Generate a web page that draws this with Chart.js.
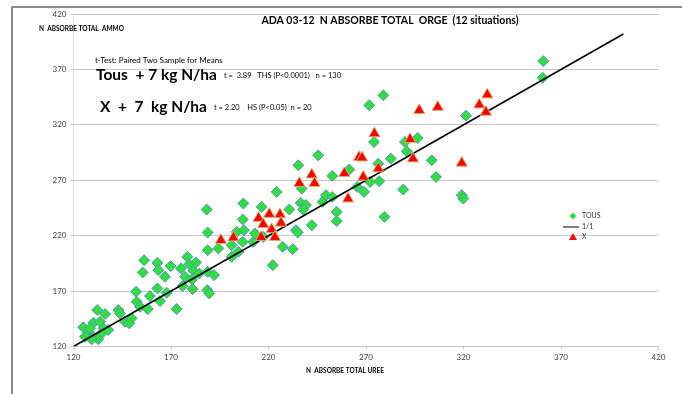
<!DOCTYPE html>
<html>
<head>
<meta charset="utf-8">
<script src="https://cdn.jsdelivr.net/npm/chart.js@4.4.0/dist/chart.umd.min.js"></script>
<style>
  html, body { margin: 0; padding: 0; background: #fff; }
</style>
</head>
<body>
<canvas id="chart" width="682" height="394"></canvas>
<script>
// TOUS series (green diamonds)
const tousX = [156.2, 163.0, 155.5, 163.5, 166.9, 169.8, 175.1, 178.4, 179.4, 182.8, 181.4, 184.5, 177.2, 180.8, 188.8, 192.1,
  176.0, 181.1, 188.6, 189.6, 188.8, 194.3, 201.1, 201.1, 204.5, 152.1, 159.2, 163.0, 167.8, 164.4, 152.4, 154.1, 158.1,
  172.9, 143.0, 143.8, 146.4, 149.8, 148.6, 132.2, 136.2, 130.2, 133.6, 125.0, 127.6, 130.2, 132.7, 129.3, 135.3, 134.5,
  125.9, 128.5, 137.8, 188.3, 207.1, 206.8, 188.8, 203.7, 207.4, 206.8, 212.2, 216.5, 213.1, 217.3, 224.2, 230.7, 227.3,
  232.4, 222.2, 234.1, 235.0, 236.5, 239.2, 237.8, 242.2, 247.8, 249.5, 252.7, 252.7, 255.0, 255.0, 237.0, 278.9, 271.7,
  274.1, 245.5, 235.3, 261.4, 276.3, 282.7, 290.0, 290.9, 296.5, 289.1, 276.8, 272.1, 265.5, 269.0, 279.4, 360.9, 360.6,
  321.3, 303.7, 305.9, 319.1, 319.9];
const tousY = [197.9, 195.5, 186.8, 188.9, 182.9, 192.5, 190.5, 200.9, 194.1, 195.9, 188.3, 185.9, 182.9, 180.5, 187.4, 184.4,
  174.5, 171.8, 170.9, 167.9, 206.9, 208.5, 211.4, 200.9, 205.4, 169.4, 165.5, 172.4, 168.5, 161.0, 160.4, 155.9, 153.8,
  153.8, 152.9, 149.9, 142.3, 145.4, 140.9, 152.9, 149.3, 141.4, 142.3, 137.3, 132.4, 128.8, 126.5, 126.5, 136.4, 131.9,
  128.8, 136.4, 134.9, 243.6, 249.0, 234.6, 222.9, 223.4, 225.0, 214.4, 214.4, 245.9, 222.0, 218.9, 259.5, 243.6, 209.9,
  207.8, 193.4, 225.0, 222.9, 249.5, 247.6, 243.6, 229.5, 250.5, 256.5, 255.0, 273.9, 241.4, 233.1, 262.5, 346.6, 337.6,
  304.5, 292.5, 283.5, 279.6, 285.0, 289.5, 304.5, 296.1, 308.1, 261.6, 269.1, 268.5, 264.0, 259.5, 236.9, 377.5, 362.5,
  328.3, 288.0, 273.0, 256.5, 253.5];

// X series (red triangles)
const xX = [195.6, 202.0, 214.9, 220.4, 225.9, 217.3, 226.4, 221.6, 216.2, 223.3, 235.8, 242.2, 243.6, 258.9, 260.8, 274.3,
  266.4, 268.0, 276.3, 268.6, 292.6, 294.1, 297.3, 306.8, 328.1, 332.2, 331.5, 319.1];
const xY = [215.9, 218.2, 235.8, 239.4, 239.1, 230.2, 231.5, 225.6, 218.6, 218.6, 267.3, 275.0, 267.3, 276.3, 253.3, 312.1,
  290.7, 290.3, 280.5, 273.0, 306.9, 289.5, 333.1, 336.0, 338.2, 347.2, 331.5, 285.6];

// 1/1 reference line ends
const lineX = [120, 402];
const lineY = [120, 402];

const axisMin = 120;
const axisMax = 420;
const axisStep = 50;

const seriesNames = ['TOUS', '1/1', 'X'];
const titleText = 'ADA 03-12  N ABSORBE TOTAL  ORGE  (12 situations)';
const xTitle = 'N  ABSORBE TOTAL UREE';
const yTitle = 'N  ABSORBE TOTAL  AMMO';
const testTitle = 't-Test: Paired Two Sample for Means';
const tousLabel = 'Tous  + 7 kg N/ha';
const tousStats = 't =  3.89   THS (P<0.0001)   n = 130';
const xLabel = 'X  +  7  kg N/ha';
const xStats = 't = 2.20    HS (P<0.05)  n = 20';

const GREEN = '#2fe03c';
const GREEN_EDGE = '#5a8ccc';
const RED = '#ff0000';
const RED_EDGE = '#c9b870';
const FONT = 'Lato, "Open Sans", sans-serif';

function toPoints(xs, ys) {
  return xs.map((x, i) => ({ x: x, y: ys[i] }));
}

const decorPlugin = {
  id: 'decor',
  afterDraw(chart) {
    const ctx = chart.ctx;
    ctx.save();

    // outer frame
    ctx.strokeStyle = '#8c8c8c';
    ctx.lineWidth = 2;
    ctx.beginPath();
    ctx.moveTo(12, 394);
    ctx.lineTo(12, 7);
    ctx.lineTo(682, 7);
    ctx.stroke();

    ctx.fillStyle = '#000';
    ctx.textBaseline = 'middle';

    ctx.textAlign = 'center';
    ctx.font = 'bold 10.5px ' + FONT;
    ctx.fillText(titleText, 390, 21);

    ctx.font = 'bold 6.5px ' + FONT;
    ctx.fillText(xTitle, 345, 371);
    ctx.textAlign = 'left';
    ctx.fillText(yTitle, 39, 29);

    ctx.font = '8px ' + FONT;
    ctx.fillText(testTitle, 95, 60);

    ctx.font = 'bold 15.5px ' + FONT;
    ctx.fillText(tousLabel, 96, 75);
    let w = ctx.measureText(tousLabel).width;
    ctx.font = '7.5px ' + FONT;
    ctx.fillText(tousStats, 96 + w + 7, 76);

    ctx.font = 'bold 15.5px ' + FONT;
    ctx.fillText(xLabel, 100, 107);
    w = ctx.measureText(xLabel).width;
    ctx.font = '7.5px ' + FONT;
    ctx.fillText(xStats, 100 + w + 7, 108);

    // legend
    const lx = 573;
    const rows = [216, 227, 237];
    ctx.font = '7px ' + FONT;
    ctx.fillStyle = '#333';
    seriesNames.forEach((name, i) => ctx.fillText(name, lx + 9, rows[i]));

    ctx.fillStyle = GREEN;
    ctx.beginPath();
    ctx.moveTo(lx, rows[0] - 3.5);
    ctx.lineTo(lx + 3.5, rows[0]);
    ctx.lineTo(lx, rows[0] + 3.5);
    ctx.lineTo(lx - 3.5, rows[0]);
    ctx.closePath();
    ctx.fill();

    ctx.strokeStyle = '#000';
    ctx.lineWidth = 1;
    ctx.beginPath();
    ctx.moveTo(lx - 10, rows[1]);
    ctx.lineTo(lx + 6, rows[1]);
    ctx.stroke();

    ctx.fillStyle = RED;
    ctx.beginPath();
    ctx.moveTo(lx, rows[2] - 4);
    ctx.lineTo(lx + 4, rows[2] + 3);
    ctx.lineTo(lx - 4, rows[2] + 3);
    ctx.closePath();
    ctx.fill();

    ctx.restore();
  }
};

new Chart(document.getElementById('chart'), {
  type: 'scatter',
  data: {
    datasets: [
      {
        label: seriesNames[2],
        data: toPoints(xX, xY),
        pointStyle: 'triangle',
        pointRadius: 6.5,
        backgroundColor: RED,
        borderColor: RED_EDGE,
        borderWidth: 1,
        order: 0
      },
      {
        label: seriesNames[1],
        type: 'line',
        data: toPoints(lineX, lineY),
        borderColor: '#000',
        borderWidth: 1.6,
        pointRadius: 0,
        fill: false,
        order: 1
      },
      {
        label: seriesNames[0],
        data: toPoints(tousX, tousY),
        pointStyle: 'rectRot',
        pointRadius: 5.5,
        backgroundColor: GREEN,
        borderColor: GREEN_EDGE,
        borderWidth: 1,
        order: 2
      }
    ]
  },
  options: {
    responsive: false,
    animation: false,
    devicePixelRatio: 1,
    layout: { padding: { top: 14, right: 23.5, left: 0, bottom: 0 } },
    plugins: {
      legend: { display: false },
      tooltip: { enabled: false }
    },
    scales: {
      x: {
        type: 'linear',
        min: axisMin,
        max: axisMax,
        ticks: { stepSize: axisStep, font: { size: 8, family: FONT }, color: '#404040', padding: 3 },
        grid: { drawOnChartArea: false, tickLength: 3, tickColor: '#c8c8c8' },
        border: { color: '#c8c8c8' },
        afterFit(scale) { scale.height = 47.5; }
      },
      y: {
        type: 'linear',
        min: axisMin,
        max: axisMax,
        ticks: { stepSize: axisStep, font: { size: 8, family: FONT }, color: '#404040', padding: 4 },
        grid: { color: '#c6c6c6', tickLength: 3 },
        border: { color: '#e0e0e0' },
        afterFit(scale) { scale.width = 73.5; }
      }
    }
  },
  plugins: [decorPlugin]
});
</script>
</body>
</html>
